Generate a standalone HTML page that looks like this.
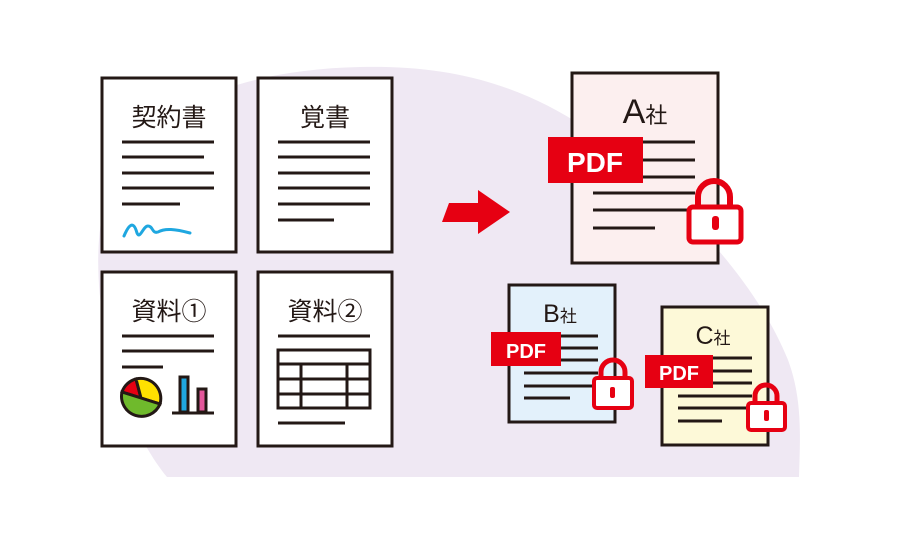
<!DOCTYPE html>
<html><head><meta charset="utf-8"><style>
html,body{margin:0;padding:0;background:#fff;}
svg{display:block;}
text{font-family:"Liberation Sans","Noto Sans CJK JP",sans-serif;fill:#231815;}
</style></head><body>
<svg width="900" height="540" viewBox="0 0 900 540" xmlns="http://www.w3.org/2000/svg">
<path d="M167,477 C120,420 85,300 103,210 C122,120 220,70 360,67 C480,64 560,100 640,170 C700,225 760,290 788,360 C803,400 800,440 799,477 Z" fill="#efe8f3"/>
<g stroke="#231815" stroke-width="3" fill="#fff">
<rect x="102" y="78" width="134" height="174"/>
<rect x="258" y="78" width="134" height="174"/>
<rect x="102" y="272" width="134" height="174"/>
<rect x="258" y="272" width="134" height="174"/>
</g>
<text x="169" y="126" font-size="25" text-anchor="middle">契約書</text>
<text x="325" y="126" font-size="25" text-anchor="middle">覚書</text>
<text x="169" y="320" font-size="25" text-anchor="middle">資料①</text>
<text x="325" y="320" font-size="25" text-anchor="middle">資料②</text>
<g stroke="#231815" stroke-width="3">
<line x1="122" y1="142" x2="214" y2="142"/><line x1="122" y1="157" x2="204" y2="157"/><line x1="122" y1="173" x2="214" y2="173"/><line x1="122" y1="188" x2="214" y2="188"/><line x1="122" y1="204" x2="180" y2="204"/>
<line x1="278" y1="142" x2="370" y2="142"/><line x1="278" y1="157" x2="370" y2="157"/><line x1="278" y1="173" x2="370" y2="173"/><line x1="278" y1="188" x2="370" y2="188"/><line x1="278" y1="204" x2="370" y2="204"/><line x1="278" y1="220" x2="334" y2="220"/>
<line x1="122" y1="336" x2="214" y2="336"/><line x1="122" y1="351" x2="214" y2="351"/><line x1="122" y1="367" x2="163" y2="367"/>
<line x1="278" y1="336" x2="370" y2="336"/><line x1="278" y1="423" x2="345" y2="423"/>
<line x1="172" y1="413" x2="214" y2="413"/>
</g>
<path d="M124,236 C130,222 134,222 137,233 C140,240 143,226 148,226 C153,226 152,234 158,232 C165,228 175,229 190,233" stroke="#1fa7e0" stroke-width="3" fill="none" stroke-linecap="round"/>
<g stroke="#231815" stroke-width="3" fill="none">
<rect x="278" y="350" width="92" height="58"/>
<line x1="278" y1="364" x2="370" y2="364"/><line x1="278" y1="379" x2="370" y2="379"/><line x1="278" y1="394" x2="370" y2="394"/>
<line x1="301" y1="364" x2="301" y2="408"/><line x1="347" y1="364" x2="347" y2="408"/>
</g>
<g stroke="#231815" stroke-width="3">
<path d="M141,398 L122,392 A20,20 0 0 1 136,379 Z" fill="#e60012"/>
<path d="M141,398 L136,379 A20,20 0 0 1 160,404 Z" fill="#ffe100"/>
<path d="M141,398 L160,404 A20,20 0 0 1 122,392 Z" fill="#6fba2c"/>
<rect x="180" y="377" width="8" height="35" fill="#1fa7e0"/>
<rect x="198" y="389" width="8" height="23" fill="#e4579b"/>
</g>
<path d="M449,203 L478,203 L478,190 L510,212 L478,234 L478,222 L442,222 Z" fill="#e60012"/>
<!-- A -->
<rect x="572" y="73" width="146" height="190" fill="#fcefef" stroke="#231815" stroke-width="3"/>
<text x="645" y="123" font-size="34" text-anchor="middle">A<tspan font-size="22">社</tspan></text>
<g stroke="#231815" stroke-width="3">
<line x1="640" y1="142" x2="695" y2="142"/><line x1="640" y1="160" x2="695" y2="160"/><line x1="640" y1="177" x2="695" y2="177"/>
<line x1="593" y1="193" x2="695" y2="193"/><line x1="593" y1="210" x2="695" y2="210"/><line x1="593" y1="228" x2="655" y2="228"/>
</g>
<rect x="548" y="137" width="95" height="46" fill="#e60012"/>
<text x="595" y="172" font-size="28" font-weight="bold" text-anchor="middle" style="fill:#fff">PDF</text>
<path d="M698,207 V197 A16,16 0 0 1 730,197 V207" stroke="#e60012" stroke-width="6" fill="none"/>
<rect x="689" y="207" width="52" height="35" rx="4" fill="#fff" stroke="#e60012" stroke-width="5"/>
<rect x="712" y="216" width="7" height="14" rx="3" fill="#e60012"/>
<!-- B -->
<rect x="509" y="285" width="106" height="137" fill="#e3f1fb" stroke="#231815" stroke-width="3"/>
<text x="560" y="322" font-size="25" text-anchor="middle">B<tspan font-size="17">社</tspan></text>
<g stroke="#231815" stroke-width="3">
<line x1="558" y1="336" x2="598" y2="336"/><line x1="558" y1="348" x2="598" y2="348"/><line x1="558" y1="360" x2="598" y2="360"/>
<line x1="524" y1="373" x2="598" y2="373"/><line x1="524" y1="386" x2="598" y2="386"/><line x1="524" y1="398" x2="570" y2="398"/>
</g>
<rect x="491" y="332" width="70" height="34" fill="#e60012"/>
<text x="526" y="358" font-size="20" font-weight="bold" text-anchor="middle" style="fill:#fff">PDF</text>
<path d="M601,378 V372 A12,12 0 0 1 625,372 V378" stroke="#e60012" stroke-width="5" fill="none"/>
<rect x="594" y="378" width="38" height="30" rx="3" fill="#fff" stroke="#e60012" stroke-width="4"/>
<rect x="610" y="387" width="5" height="11" rx="2" fill="#e60012"/>
<!-- C -->
<rect x="662" y="307" width="106" height="138" fill="#fdf9d8" stroke="#231815" stroke-width="3"/>
<text x="713" y="344" font-size="25" text-anchor="middle">C<tspan font-size="17">社</tspan></text>
<g stroke="#231815" stroke-width="3">
<line x1="710" y1="358" x2="752" y2="358"/><line x1="710" y1="371" x2="752" y2="371"/><line x1="710" y1="383" x2="752" y2="383"/>
<line x1="678" y1="396" x2="752" y2="396"/><line x1="678" y1="408" x2="752" y2="408"/><line x1="678" y1="421" x2="722" y2="421"/>
</g>
<rect x="645" y="355" width="68" height="33" fill="#e60012"/>
<text x="679" y="380" font-size="20" font-weight="bold" text-anchor="middle" style="fill:#fff">PDF</text>
<path d="M755,403 V396 A11,11 0 0 1 777,396 V403" stroke="#e60012" stroke-width="5" fill="none"/>
<rect x="748" y="403" width="37" height="27" rx="3" fill="#fff" stroke="#e60012" stroke-width="4"/>
<rect x="764" y="410" width="5" height="11" rx="2" fill="#e60012"/>
</svg>
</body></html>
